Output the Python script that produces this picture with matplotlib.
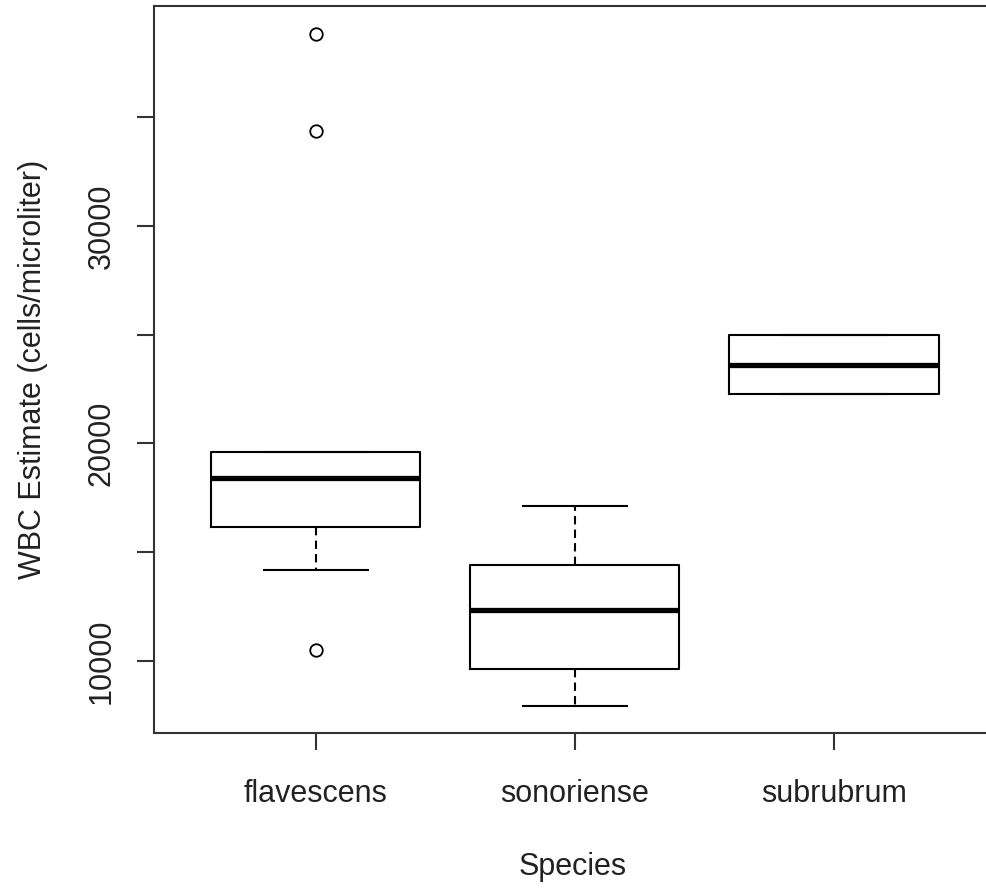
import matplotlib.pyplot as plt
import matplotlib as mpl

mpl.rcParams['font.family'] = ['Liberation Sans', 'DejaVu Sans']

# box statistics
species = ['flavescens', 'sonoriense', 'subrubrum']
whislo = [14200, 7930, 22280]
q1 = [16160, 9630, 22280]
med = [18410, 12350, 23610]
q3 = [19610, 14410, 24990]
whishi = [19610, 17130, 24990]
fliers = [[38830, 34370, 10510], [], []]

stats = []
for i in range(len(species)):
    stats.append(dict(label=species[i], whislo=whislo[i], q1=q1[i], med=med[i],
                      q3=q3[i], whishi=whishi[i], fliers=fliers[i]))

fig = plt.figure(figsize=(9.87, 8.88), dpi=100)
ax = fig.add_axes([154/987, (888-733)/888, (992-154)/987, (733-6)/888])

lw = 1.5
ax.bxp(stats, positions=[1, 2, 3], widths=0.807, showfliers=True,
       boxprops=dict(color='black', linewidth=lw),
       medianprops=dict(color='black', linewidth=3.8, solid_capstyle='butt'),
       whiskerprops=dict(color='black', linewidth=lw, linestyle=(0, (4, 2.5))),
       capprops=dict(color='black', linewidth=lw),
       flierprops=dict(marker='o', markerfacecolor='none', markeredgecolor='black',
                       markersize=9, markeredgewidth=1.3),
       capwidths=0.404)

fs = 22
ax.set_xlim(0.375, 3.61)
ax.set_ylim(6695, 40100)
ax.set_yticks([10000, 15000, 20000, 25000, 30000, 35000])
ax.set_yticklabels(['10000', '', '20000', '', '30000', ''], rotation=90, va='center')
ax.set_xticks([1, 2, 3])
ax.set_xticklabels(species)
for s in ax.spines.values():
    s.set_linewidth(1.5)
    s.set_color('#333333')
ax.tick_params(axis='both', length=12, width=1.5, color='#333333', labelsize=fs,
               labelcolor='#222222')
ax.tick_params(axis='y', pad=15)
ax.tick_params(axis='x', pad=21)
ax.set_xlabel('Species', fontsize=fs, labelpad=31, color='#222222')
ax.set_ylabel('WBC Estimate (cells/microliter)', fontsize=fs, labelpad=28, color='#222222')

fig.savefig('out.png', dpi=100)
